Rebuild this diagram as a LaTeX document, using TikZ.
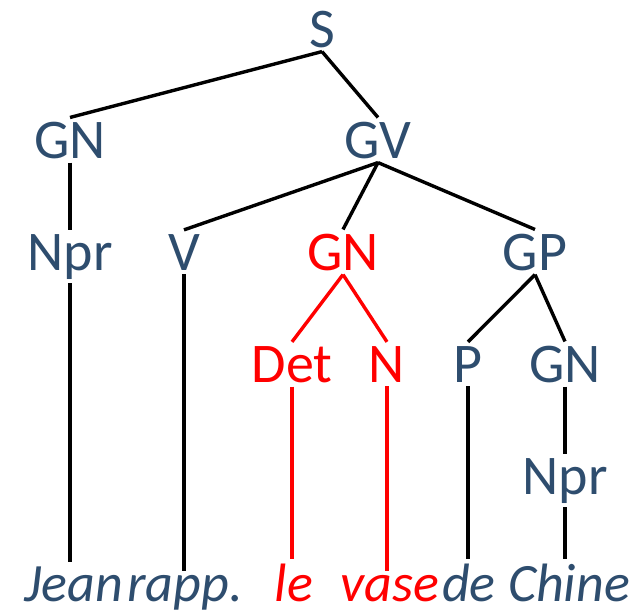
\documentclass[tikz,border=0pt]{standalone}
\usepackage{fontspec}
\setmainfont{Carlito}
\definecolor{tblue}{RGB}{46,77,110}
\definecolor{tred}{RGB}{255,0,0}
\begin{document}
\begin{tikzpicture}[x=1pt,y=-1pt,
  cat/.style={anchor=base,inner sep=4pt,text=tblue,font=\fontsize{56}{66}\selectfont},
  redcat/.style={cat,text=tred},
  leaf/.style={cat,font=\fontsize{54}{64}\selectfont\itshape},
  redleaf/.style={leaf,text=tred},
  edge/.style={line width=3.4pt,black},
  rededge/.style={line width=3.4pt,tred}]
\useasboundingbox (0,0) rectangle (636,613);
\node[cat] (S) at (322,47) {S};
\node[cat] (GN1) at (70,158) {GN};
\node[cat] (GV) at (378,158) {GV};
\node[cat] (Npr1) at (70,270) {Npr};
\node[cat] (V) at (184,270) {V};
\node[redcat] (GN2) at (343,270) {GN};
\node[cat] (GP) at (535,270) {GP};
\node[redcat] (Det) at (292,382) {Det};
\node[redcat] (N) at (387,382) {N};
\node[cat] (P) at (468,382) {P};
\node[cat] (GN3) at (565,382) {GN};
\node[cat] (Npr2) at (565,494) {Npr};
\node[leaf] (Jean) at (74,601) {Jean};
\node[leaf] (rapp) at (185,601) {rapp.};
\node[redleaf] (le) at (294,601) {le};
\node[redleaf] (vase) at (390,601) {vase};
\node[leaf] (de) at (469,601) {de};
\node[leaf] (Chine) at (569,601) {Chine};
\draw[edge] (S.south) -- (GN1.north);
\draw[edge] (S.south) -- (GV.north);
\draw[edge] (GN1.south) -- (Npr1.north);
\draw[edge] (GV.south) -- (V.north);
\draw[edge] (GV.south) -- (GN2.north);
\draw[edge] (GV.south) -- (GP.north);
\draw[rededge] (GN2.south) -- (Det.north);
\draw[rededge] (GN2.south) -- (N.north);
\draw[edge] (GP.south) -- (P.north);
\draw[edge] (GP.south) -- (GN3.north);
\draw[edge] (GN3.south) -- (Npr2.north);
\draw[edge] (Npr1.south) -- (Npr1.south |- Jean.north);
\draw[edge] (V.south) -- (V.south |- rapp.north);
\draw[rededge] (Det.south) -- (Det.south |- le.north);
\draw[rededge] (N.south) -- (N.south |- vase.north);
\draw[edge] (P.south) -- (P.south |- de.north);
\draw[edge] (Npr2.south) -- (Npr2.south |- Chine.north);
\end{tikzpicture}
\end{document}
